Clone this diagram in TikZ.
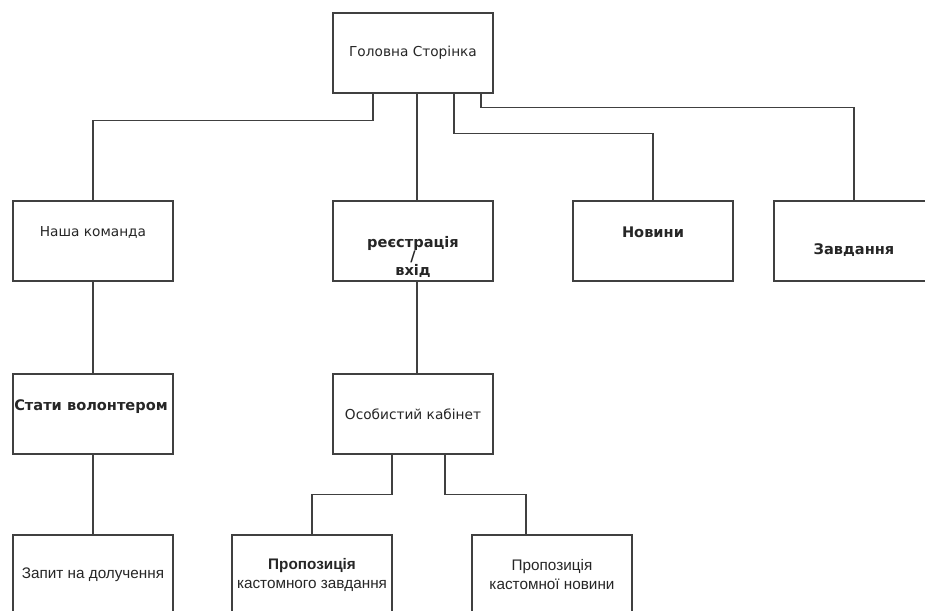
\documentclass[tikz,border=0pt]{standalone}
\usepackage{fontspec}
\usepackage{tikz}
\usepackage{xcolor}
\newfontfamily\dvs{DejaVu Sans}
\newfontfamily\lib{Liberation Sans}

\tikzset{
  box/.style={draw=black!75,line width=0.85pt,fill=white,rectangle,
    minimum width=3.2cm,minimum height=1.6cm,inner sep=0pt},
  wire/.style={draw=black!75,line width=0.85pt},
  vtxt/.style={text=black!85,font=\dvs\fontsize{7.8}{8}\selectfont,align=center},
  btxt/.style={text=black!85,font=\dvs\bfseries\fontsize{8.3}{8}\selectfont,align=center},
  atxt/.style={text=black!85,font=\lib\fontsize{8.7}{10.8}\selectfont,align=center}
}

\begin{document}
\begin{tikzpicture}[x=0.02cm,y=-0.02cm]
            \useasboundingbox (0,0) rectangle (925,610);

            % first row
            \node[box,label={[vtxt]center:Головна Сторінка}] (main) at (413,53) {};

            % second row
            \node[box,label={[vtxt,yshift=0.18cm]center:Наша команда}] (team) at (93,241) {};
            \node[box,label={[btxt,yshift=-0.32cm]center:реєстрація\\/\\вхід}] (reg) at (413,241) {};
            \node[box,label={[btxt,yshift=0.18cm]center:Новини}] (news) at (653,241) {};
            \node[box,label={[btxt,yshift=-0.18cm]center:Завдання}] (tasks) at (854,241) {};

            % third row
            \node[box,label={[btxt,yshift=0.14cm,xshift=-0.04cm]center:Стати волонтером}] (vol) at (93,414) {};
            \node[box,label={[vtxt]center:Особистий кабінет}] (cab) at (413,414) {};

            % fourth row
            \node[box,label={[atxt]center:Запит на долучення}] (join) at (93,575) {};
            \node[box,label={[atxt]center:{\bfseries Пропозиція}\\кастомного завдання}] (propT) at (312,575) {};
            \node[box,label={[atxt]center:Пропозиція\\кастомної новини}] (propN) at (552,575) {};

            % connectors
            \draw[wire] ([xshift=-0.8cm]main.south) -- ++(0,-0.54cm) -| (team.north);
            \draw[wire] ([xshift=0.08cm]main.south) -- ([xshift=0.08cm]reg.north);
            \draw[wire] ([xshift=0.82cm]main.south) -- ++(0,-0.8cm) -| (news.north);
            \draw[wire] ([xshift=1.36cm]main.south) -- ++(0,-0.28cm) -| (tasks.north);
            \draw[wire] (team.south) -- (vol.north);
            \draw[wire] (vol.south) -- (join.north);
            \draw[wire] ([xshift=0.08cm]reg.south) -- ([xshift=0.08cm]cab.north);
            \draw[wire] ([xshift=-0.42cm]cab.south) -- ++(0,-0.8cm) -| (propT.north);
            \draw[wire] ([xshift=0.64cm]cab.south) -- ++(0,-0.8cm) -| ([xshift=-0.52cm]propN.north);
        \end{tikzpicture}
\end{document}
